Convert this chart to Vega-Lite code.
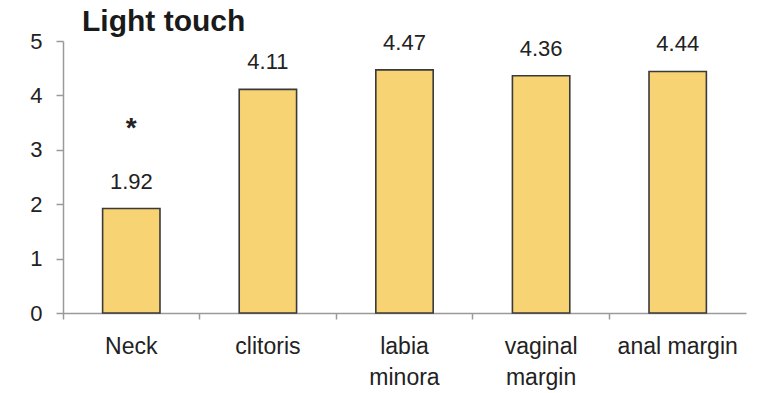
{
  "$schema": "https://vega.github.io/schema/vega-lite/v6.json",
  "width": 683,
  "height": 272,
  "autosize": {"type": "none"},
  "padding": {"left": 63, "top": 41, "right": 12, "bottom": 80},
  "background": "white",
  "config": {
    "font": "Liberation Sans",
    "view": {"stroke": null}
  },
  "title": {
    "text": "Light touch",
    "anchor": "start",
    "frame": "group",
    "baseline": "bottom",
    "dx": 19,
    "offset": -37,
    "fontSize": 30,
    "fontWeight": "bold",
    "color": "#1a1a1a",
    "font": "Liberation Sans"
  },
  "datasets": {
    "bars": [
      {"site": "Neck", "score": 1.92},
      {"site": "clitoris", "score": 4.11},
      {"site": "labia minora", "score": 4.47},
      {"site": "vaginal margin", "score": 4.36},
      {"site": "anal margin", "score": 4.44}
    ],
    "sig": [
      {"site": "Neck", "star": "*", "pos": 3.5}
    ]
  },
  "layer": [
    {
      "data": {"name": "bars"},
      "mark": {"type": "bar", "width": {"band": 0.42}, "fill": "#F8D374", "stroke": "#3a3a3a", "strokeWidth": 1.6},
      "encoding": {
        "x": {
          "field": "site", "type": "nominal", "sort": null,
          "scale": {"paddingInner": 0, "paddingOuter": 0},
          "axis": {
            "title": null,
            "labelAngle": 0,
            "bandPosition": 0,
            "domainColor": "#9a9a9a",
            "domainWidth": 1.5,
            "tickColor": "#9a9a9a",
            "tickSize": 6,
            "tickWidth": 1.5,
            "labelFontSize": 23,
            "labelColor": "#222",
            "labelPadding": 16,
            "labelLineHeight": 31,
            "labelExpr": "datum.label == 'labia minora' ? ['labia', 'minora'] : datum.label == 'vaginal margin' ? ['vaginal', 'margin'] : datum.label"
          }
        },
        "y": {
          "field": "score", "type": "quantitative",
          "scale": {"domain": [0, 5], "nice": false},
          "axis": {
            "title": null,
            "values": [0, 1, 2, 3, 4, 5],
            "grid": false,
            "domainColor": "#9a9a9a",
            "domainWidth": 1.5,
            "tickColor": "#9a9a9a",
            "tickSize": 7,
            "tickWidth": 1.5,
            "labelFontSize": 22,
            "labelColor": "#222",
            "labelPadding": 14
          }
        }
      }
    },
    {
      "data": {"name": "bars"},
      "mark": {"type": "text", "baseline": "alphabetic", "dy": -20, "fontSize": 22, "color": "#222"},
      "encoding": {
        "x": {"field": "site", "type": "nominal", "sort": null},
        "y": {"field": "score", "type": "quantitative"},
        "text": {"field": "score", "type": "quantitative", "format": ".2f"}
      }
    },
    {
      "data": {"name": "sig"},
      "mark": {"type": "text", "baseline": "middle", "fontSize": 28, "fontWeight": "bold", "color": "#222", "dy": 6},
      "encoding": {
        "x": {"field": "site", "type": "nominal", "sort": null},
        "y": {"field": "pos", "type": "quantitative"},
        "text": {"field": "star", "type": "nominal"}
      }
    }
  ]
}
